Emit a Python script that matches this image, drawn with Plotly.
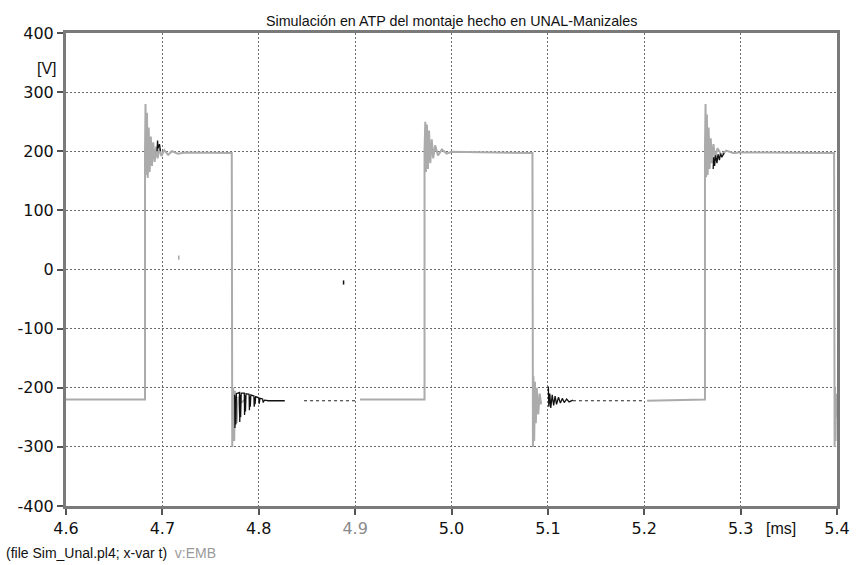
import plotly.graph_objects as go

# ---- data ----
gray_t = [4.600, 4.682,
          4.682, 4.6825, 4.6832, 4.684, 4.6848, 4.6858, 4.6868, 4.688, 4.6892, 4.6905, 4.692, 4.6935,
          4.695, 4.697, 4.699, 4.702, 4.706, 4.710, 4.716, 4.724, 4.772,
          4.7725, 4.7735, 4.7745, 4.7755, 4.777, 4.779, 4.782, 4.786,
          None,
          4.905, 4.972,
          4.972, 4.9728, 4.9735, 4.9745, 4.9755, 4.9767, 4.978, 4.9795, 4.981, 4.983, 4.986, 4.990,
          4.995, 5.000, 5.084,
          5.0845, 5.085, 5.0858, 5.0866, 5.0875, 5.0885, 5.090, 5.0915, 5.093,
          None,
          5.203, 5.263,
          5.263, 5.2636, 5.2642, 5.265, 5.2658, 5.2668, 5.2678, 5.269, 5.2702, 5.2718, 5.2735, 5.276,
          5.280, 5.285, 5.292, 5.300, 5.397,
          5.3975, 5.398, 5.3985, 5.399, 5.3995, 5.400]
gray_v = [-220, -220,
          200, 280, 160, 265, 155, 240, 165, 225, 175, 215, 182, 208,
          188, 205, 192, 202, 194, 200, 196, 198, 197,
          -300, -200, -290, -205, -260, -215, -225, -220,
          None,
          -220, -220,
          200, 250, 165, 245, 170, 235, 180, 220, 188, 210, 193, 203,
          196, 199, 197,
          -300, -180, -290, -190, -260, -200, -245, -210, -228,
          None,
          -222, -220,
          200, 280, 156, 262, 160, 240, 170, 222, 180, 212, 188, 205,
          194, 201, 197, 198, 197,
          -300, -200, -290, -210, -250, -220]

black_t = [4.6945, 4.695, 4.6955, 4.697, 4.698,
           None,
           4.7750, 4.7753, 4.7757, 4.7762, 4.7768,
           4.7800, 4.7803, 4.7807, 4.7812, 4.7818,
           4.7850, 4.7853, 4.7857, 4.7862, 4.7868,
           4.7900, 4.7903, 4.7907, 4.7912, 4.7918,
           4.7950, 4.7953, 4.7957, 4.7962, 4.7968,
           4.8000, 4.8005, 4.8012, 4.8040, 4.8045, 4.8060, 4.8100, 4.8270,
           None,
           5.1005, 5.1010, 5.1020, 5.1030, 5.1045, 5.1060, 5.1075, 5.1090, 5.1110, 5.1130,
           5.1150, 5.1170, 5.1195, 5.1220, 5.1260,
           None,
           5.2715, 5.272, 5.273, 5.274, 5.2755, 5.2765, 5.278, 5.279, 5.2805, 5.283]
black_v = [200, 218, 205, 212, 200,
           None,
           -212, -268, -215, -262, -210,
           -208, -258, -212, -250, -209,
           -209, -246, -213, -240, -210,
           -211, -238, -215, -232, -212,
           -214, -232, -216, -228, -215,
           -217, -227, -218, -219, -225, -221, -222, -222,
           None,
           -198, -232, -210, -234, -212, -230, -214, -228, -216, -226,
           -218, -225, -219, -224, -221,
           None,
           170, 190, 175, 193, 180, 195, 185, 196, 190, 197]

dotted_t = [4.847, 4.900, None, 5.126, 5.198]
dotted_v = [-222, -222, None, -222, -222]

stray_t = [4.717, 4.888]
stray_v = [20, -22]
stray_c = ["#a8a8a8", "#111111"]

x_ticks = [4.6, 4.7, 4.8, 4.9, 5.0, 5.1, 5.2, 5.3, 5.4]
x_labels = ["4.6", "4.7", "4.8", "<span style='color:#8a8a8a'>4.9</span>", "5.0", "5.1", "5.2", "5.3", "5.4"]
y_ticks = [400, 300, 200, 100, 0, -100, -200, -300, -400]
y_labels = ["400", "300", "200", "100", "0", "-100", "-200", "-300", "-400"]

fig = go.Figure()
fig.add_trace(go.Scatter(x=gray_t, y=gray_v, mode="lines",
                         line=dict(color="#ababab", width=2), connectgaps=False,
                         hoverinfo="skip", showlegend=False))
fig.add_trace(go.Scatter(x=black_t, y=black_v, mode="lines",
                         line=dict(color="#111111", width=1.3), connectgaps=False,
                         hoverinfo="skip", showlegend=False))
fig.add_trace(go.Scatter(x=dotted_t, y=dotted_v, mode="lines",
                         line=dict(color="#222222", width=1.2, dash="dot"), connectgaps=False,
                         hoverinfo="skip", showlegend=False))
fig.add_trace(go.Scatter(x=stray_t, y=stray_v, mode="markers",
                         marker=dict(color=stray_c, size=3, symbol="line-ns-open",
                                     line=dict(color=stray_c, width=1.5)),
                         hoverinfo="skip", showlegend=False))

axis_common = dict(showline=True, linecolor="#7a7a7a", linewidth=3, mirror=True,
                   ticks="outside", ticklen=6, tickwidth=1.5, tickcolor="#555555",
                   showgrid=True, gridcolor="#6a6a6a", griddash="2px,2px", gridwidth=1.2,
                   zeroline=False, tickfont=dict(family="DejaVu Sans", size=16, color="#111111"))

fig.update_xaxes(range=[4.6, 5.4], tickvals=x_ticks, ticktext=x_labels, **axis_common)
fig.update_yaxes(range=[-400, 400], tickvals=y_ticks, ticktext=y_labels, **axis_common)

fig.update_layout(
    width=862, height=565,
    margin=dict(l=66, r=19, t=33, b=59),
    paper_bgcolor="white", plot_bgcolor="white",
    showlegend=False,
    annotations=[
        dict(text="Simulación en ATP del montaje hecho en UNAL-Manizales", x=0.5, y=1.0,
             xref="paper", yref="paper", xanchor="center", yanchor="bottom", yshift=2,
             showarrow=False, font=dict(family="Liberation Sans, Arial", size=14.3, color="#111111")),
        dict(text="[V]", x=0, y=340, xref="paper", yref="y", xanchor="right", yanchor="middle",
             xshift=-7, showarrow=False,
             font=dict(family="Liberation Sans, Arial", size=16, color="#111111")),
        dict(text="[ms]", x=5.342, y=0, xref="x", yref="paper", xanchor="center", yanchor="top",
             yshift=-12, showarrow=False,
             font=dict(family="Liberation Sans, Arial", size=16, color="#111111")),
        dict(text="(file Sim_Unal.pl4; x-var t)  <span style='color:#9a9a9a'>v:EMB</span>",
             x=0, y=0, xref="paper", yref="paper", xanchor="left", yanchor="bottom",
             xshift=-62, yshift=-57, showarrow=False,
             font=dict(family="Liberation Sans, Arial", size=14, color="#111111")),
    ],
)

fig.write_html("out.html")
